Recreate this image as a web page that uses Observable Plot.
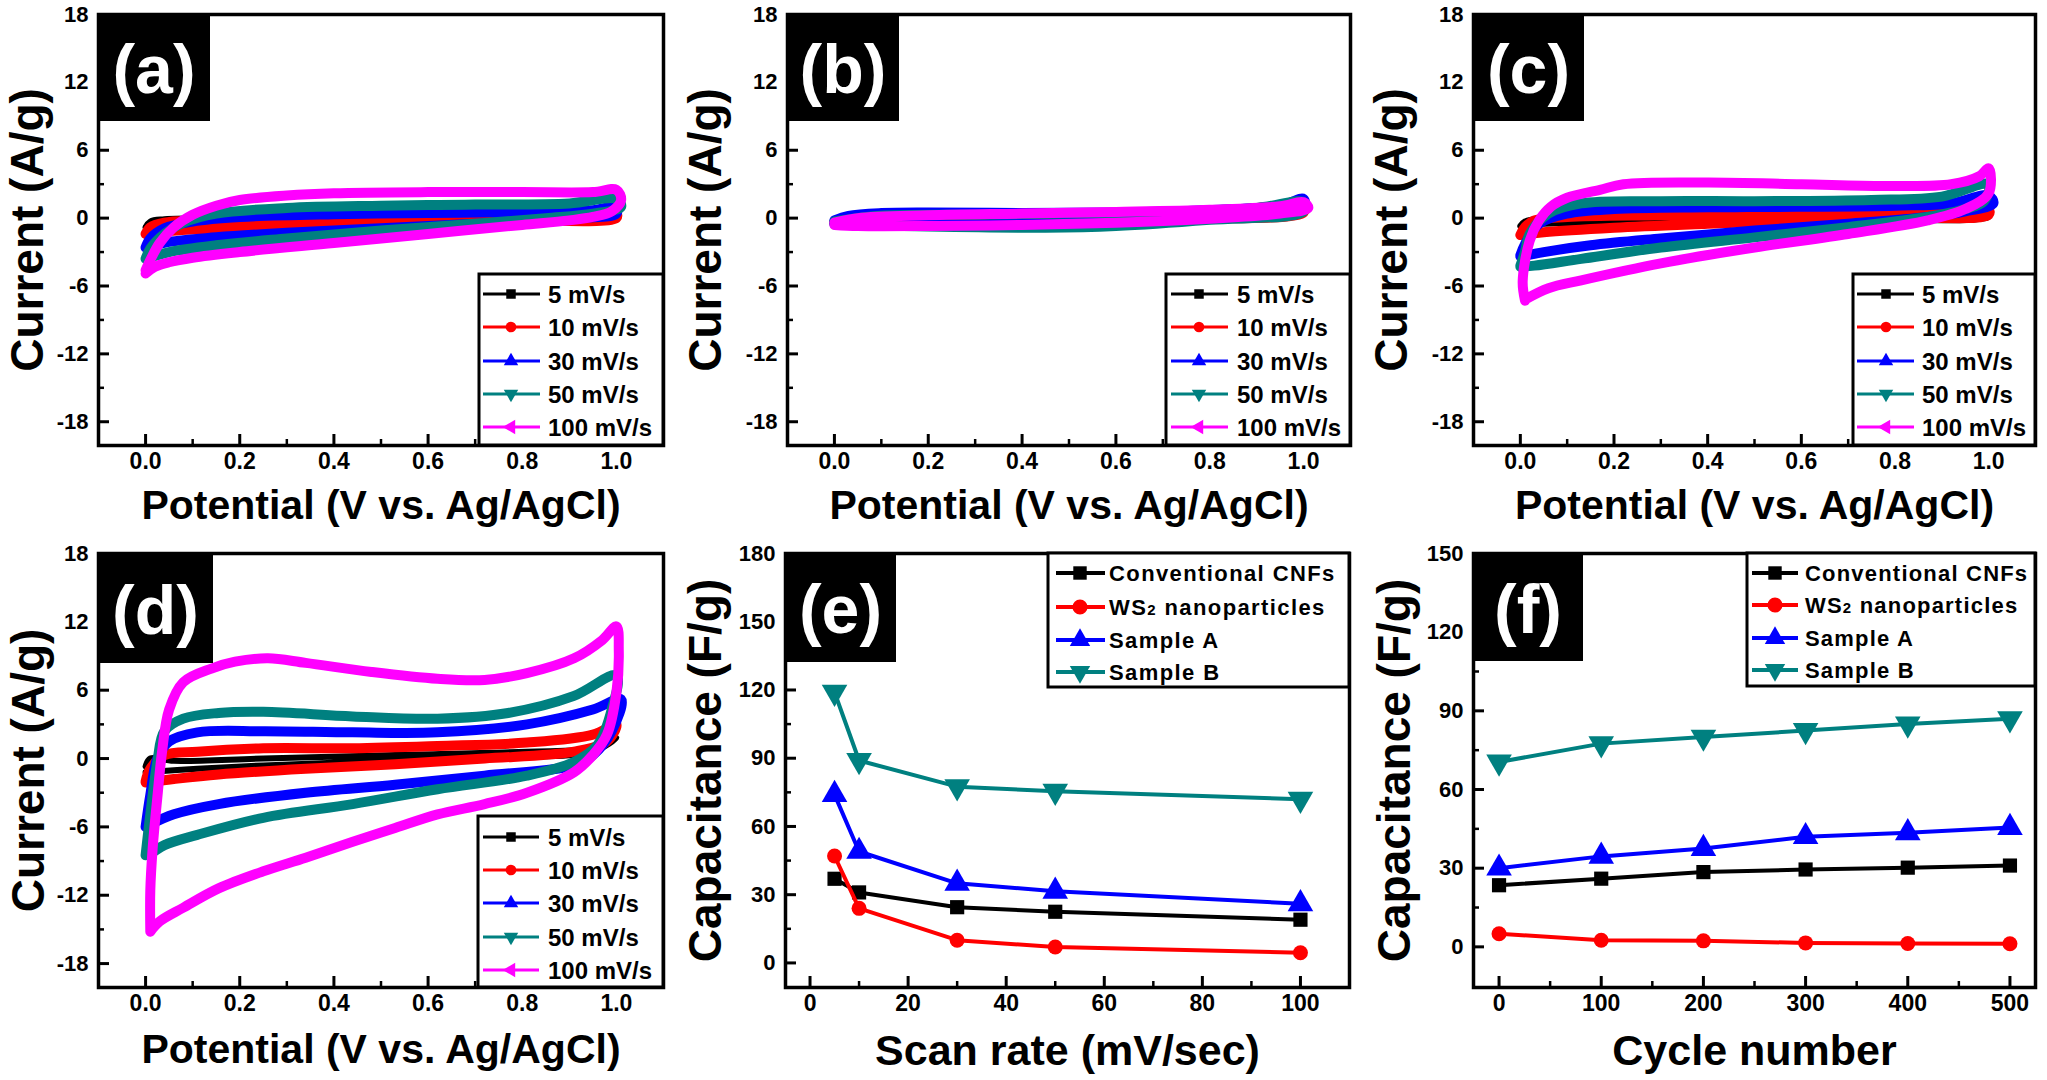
<!DOCTYPE html>
<html><head><meta charset="utf-8">
<script src="https://cdn.jsdelivr.net/npm/d3@7"></script>
<script src="https://cdn.jsdelivr.net/npm/@observablehq/plot@0.6"></script>
<style>
body{margin:0;background:#fff;}
#root{position:relative;width:2047px;height:1080px;overflow:hidden;background:#fff;font-family:"Liberation Sans",Arial,sans-serif;}
#root > svg.plot{position:absolute;}
#overlay{position:absolute;left:0;top:0;}
</style></head><body><div id="root"></div>
<script>
// ---------- labels, colours, ticks ----------
const cvLabels = ["5 mV/s", "10 mV/s", "30 mV/s", "50 mV/s", "100 mV/s"];
const cvColors = ["#000000", "#ff0000", "#0000ff", "#008080", "#ff00ff"];
const capLabels = ["Conventional CNFs", "WS2 nanoparticles", "Sample A", "Sample B"];
const capColors = ["#000000", "#ff0000", "#0000ff", "#008080"];
const panelTags = ["(a)", "(b)", "(c)", "(d)", "(e)", "(f)"];

const potTicks = [0, 0.2, 0.4, 0.6, 0.8, 1.0];
const potMinor = [0.1, 0.3, 0.5, 0.7, 0.9];
const curTicks = [-18, -12, -6, 0, 6, 12, 18];
const curMinor = [-15, -9, -3, 3, 9, 15];
const scanTicks = [0, 20, 40, 60, 80, 100];
const scanMinor = [10, 30, 50, 70, 90];
const capTicksE = [0, 30, 60, 90, 120, 150, 180];
const capMinorE = [15, 45, 75, 105, 135, 165];
const cycleTicks = [0, 100, 200, 300, 400, 500];
const cycleMinor = [50, 150, 250, 350, 450];
const capTicksF = [0, 30, 60, 90, 120, 150];
const capMinorF = [15, 45, 75, 105, 135];

// ---------- CV loops: [potential V, current A/g] ----------
const a5 = [[0,-0.8],[0.01,-0.3],[0.04,-0.1],[0.2,0.0],[0.5,0.1],[0.8,0.2],[1.0,0.3],[1.0,0.0],[0.8,-0.1],[0.5,-0.25],[0.2,-0.4],[0.05,-0.6],[0,-0.8]];
const a10 = [[0,-1.4],[0.01,-0.8],[0.04,-0.4],[0.1,-0.2],[0.3,0.0],[0.6,0.2],[0.8,0.3],[1.0,0.4],[1.0,0.0],[0.8,-0.2],[0.6,-0.4],[0.4,-0.6],[0.2,-0.85],[0.1,-1.0],[0.03,-1.2],[0,-1.4]];
const a30 = [[0,-2.6],[0.01,-1.8],[0.04,-0.9],[0.1,-0.3],[0.2,0.1],[0.4,0.35],[0.6,0.45],[0.8,0.55],[0.95,0.7],[1.0,1.0],[1.0,0.4],[0.9,0.0],[0.7,-0.5],[0.5,-0.9],[0.3,-1.3],[0.15,-1.7],[0.05,-2.1],[0,-2.6]];
const a50 = [[0,-3.6],[0.01,-2.7],[0.04,-1.4],[0.08,-0.4],[0.15,0.4],[0.3,0.9],[0.5,1.1],[0.7,1.2],[0.9,1.3],[1.0,1.7],[1.01,1.0],[0.95,0.4],[0.85,0.0],[0.7,-0.5],[0.5,-1.1],[0.3,-1.8],[0.15,-2.4],[0.05,-3.0],[0,-3.6]];
const a100 = [[0,-4.6],[0.01,-3.7],[0.03,-2.2],[0.06,-0.8],[0.1,0.3],[0.15,1.1],[0.2,1.6],[0.3,2.0],[0.4,2.2],[0.6,2.3],[0.8,2.3],[0.95,2.3],[1.0,2.5],[1.01,1.6],[0.99,0.6],[0.95,0.1],[0.9,-0.2],[0.8,-0.6],[0.6,-1.4],[0.4,-2.2],[0.2,-3.0],[0.1,-3.5],[0.05,-3.9],[0.02,-4.3],[0,-4.9]];

const b5 = [[0,-0.3],[0.2,0.0],[0.5,0.2],[0.8,0.4],[1.0,0.8],[1.0,0.4],[0.7,0.0],[0.4,-0.2],[0.1,-0.4],[0,-0.4]];
const b10 = [[0,-0.35],[0.1,0.05],[0.3,0.2],[0.5,0.3],[0.8,0.5],[1.0,1.0],[1.0,0.5],[0.7,-0.05],[0.4,-0.3],[0.1,-0.5],[0,-0.45]];
const b30 = [[0,-0.2],[0.03,0.2],[0.1,0.45],[0.2,0.5],[0.4,0.45],[0.6,0.5],[0.8,0.7],[0.95,1.1],[1.0,1.7],[1.0,0.9],[0.8,0.1],[0.6,-0.3],[0.4,-0.5],[0.2,-0.6],[0,-0.5]];
const b50 = [[0,-0.3],[0.1,0.2],[0.3,0.3],[0.5,0.4],[0.7,0.55],[0.9,0.9],[1.0,1.4],[1.0,0.6],[0.8,-0.15],[0.6,-0.7],[0.45,-0.85],[0.2,-0.75],[0,-0.55]];
const b100 = [[0,-0.4],[0.05,0.0],[0.2,0.25],[0.4,0.4],[0.6,0.55],[0.8,0.75],[0.95,1.05],[1.0,1.4],[1.01,0.9],[0.95,0.4],[0.8,-0.05],[0.6,-0.4],[0.4,-0.6],[0.2,-0.7],[0.05,-0.7],[0,-0.6]];

const c5 = [[0,-0.7],[0.01,-0.3],[0.04,-0.05],[0.15,0.0],[0.3,0.05],[0.6,0.15],[0.9,0.25],[1.0,0.4],[1.0,0.1],[0.7,-0.05],[0.4,-0.2],[0.2,-0.35],[0.05,-0.5],[0,-0.7]];
const c10 = [[0,-1.5],[0.01,-0.8],[0.03,-0.2],[0.1,0.1],[0.3,0.25],[0.5,0.35],[0.7,0.45],[0.9,0.55],[1.0,0.8],[1.0,0.3],[0.8,0.05],[0.6,-0.2],[0.4,-0.5],[0.2,-0.85],[0.05,-1.25],[0,-1.5]];
const c30 = [[0,-3.3],[0.01,-2.3],[0.04,-0.5],[0.1,0.4],[0.2,0.8],[0.4,0.95],[0.6,1.0],[0.8,1.1],[0.92,1.3],[1.0,2.0],[1.01,1.3],[0.95,0.6],[0.87,0.1],[0.7,-0.5],[0.5,-1.1],[0.3,-1.8],[0.15,-2.4],[0.05,-3.0],[0,-3.4]];
const c50 = [[0,-4.2],[0.01,-3.0],[0.02,-1.4],[0.06,0.4],[0.13,1.3],[0.3,1.5],[0.5,1.5],[0.75,1.6],[0.9,1.9],[1.0,3.0],[0.99,1.5],[0.95,0.8],[0.87,0.1],[0.7,-0.8],[0.5,-1.7],[0.3,-2.6],[0.13,-3.6],[0.03,-4.2],[0,-4.3]];
const c100 = [[0.01,-7.3],[0.005,-5.6],[0.02,-2.0],[0.04,-0.2],[0.065,1.0],[0.1,1.8],[0.17,2.5],[0.22,3.0],[0.4,3.15],[0.6,3.0],[0.78,2.85],[0.92,3.0],[0.98,3.7],[1.0,4.4],[1.0,2.2],[0.95,0.8],[0.87,-0.2],[0.7,-1.4],[0.5,-2.6],[0.3,-4.0],[0.13,-5.5],[0.06,-6.2],[0.01,-7.2]];

const d5 = [[0,-0.7],[0.01,0.0],[0.06,-0.2],[0.25,0.0],[0.53,0.3],[0.81,0.6],[0.95,0.9],[1.0,1.8],[0.95,0.6],[0.72,0.15],[0.44,-0.3],[0.25,-0.6],[0.11,-0.9],[0,-1.2]];
const d10 = [[0,-2.0],[0.01,-0.9],[0.04,0.3],[0.11,0.6],[0.25,0.9],[0.44,0.9],[0.62,1.1],[0.81,1.4],[0.95,2.1],[1.0,3.0],[0.98,1.5],[0.91,0.6],[0.72,0.0],[0.53,-0.5],[0.34,-0.9],[0.155,-1.4],[0.06,-1.8],[0,-2.1]];
const d30 = [[0,-6.0],[0.01,-3.2],[0.025,0.0],[0.05,1.5],[0.11,2.3],[0.25,2.4],[0.44,2.3],[0.62,2.3],[0.81,3.0],[0.95,4.3],[1.01,5.2],[0.99,2.4],[0.95,0.3],[0.91,-0.6],[0.72,-1.5],[0.53,-2.3],[0.34,-3.0],[0.155,-4.0],[0.06,-4.9],[0.01,-5.8]];
const d50 = [[0,-8.5],[0.01,-4.9],[0.025,-0.3],[0.04,2.4],[0.08,3.5],[0.155,4.0],[0.25,4.1],[0.44,3.7],[0.62,3.5],[0.77,4.0],[0.91,5.5],[1.0,7.3],[0.99,4.3],[0.96,1.2],[0.91,-0.3],[0.81,-1.5],[0.62,-2.7],[0.44,-4.0],[0.25,-5.2],[0.11,-6.7],[0.04,-7.6],[0.01,-8.4]];
const d100 = [[0.01,-15.2],[0.01,-11.6],[0.015,-7.9],[0.025,-3.4],[0.035,0.6],[0.05,4.3],[0.08,6.7],[0.14,7.9],[0.19,8.5],[0.26,8.8],[0.34,8.4],[0.48,7.6],[0.62,7.0],[0.72,6.9],[0.81,7.5],[0.91,8.8],[0.97,10.4],[1.0,11.6],[1.005,9.5],[1.0,5.8],[0.98,2.1],[0.95,0.3],[0.91,-1.2],[0.81,-3.0],[0.72,-4.0],[0.62,-4.9],[0.53,-6.1],[0.44,-7.3],[0.34,-8.7],[0.25,-9.9],[0.155,-11.4],[0.08,-13.1],[0.03,-14.3],[0.01,-15.2]];

// ---------- capacitance vs scan rate (e) ----------
const scanRates = [5, 10, 30, 50, 100];
const capE_CNF = [37, 31, 24.5, 22.5, 19];
const capE_WS2 = [47, 24, 10, 7, 4.5];
const capE_A = [74, 49, 35, 31.5, 26];
const capE_B = [119, 89, 77.5, 75.5, 72];

// ---------- capacitance vs cycle number (f) ----------
const cycles = [0, 100, 200, 300, 400, 500];
const capF_CNF = [23.5, 26, 28.5, 29.5, 30.2, 31];
const capF_WS2 = [5, 2.5, 2.3, 1.5, 1.3, 1.2];
const capF_A = [30, 34.5, 37.5, 42, 43.5, 45.5];
const capF_B = [70.5, 77.5, 80, 82.5, 85, 87];

// ---------- symbols ----------
const triDown = {draw(ctx, size) {
  const s = Math.sqrt(size * 4 / Math.sqrt(3)), h = s * Math.sqrt(3) / 2;
  ctx.moveTo(0, h * 2 / 3); ctx.lineTo(s / 2, -h / 3); ctx.lineTo(-s / 2, -h / 3); ctx.closePath();
}};
const triLeft = {draw(ctx, size) {
  const s = Math.sqrt(size * 4 / Math.sqrt(3)), h = s * Math.sqrt(3) / 2;
  ctx.moveTo(-h * 2 / 3, 0); ctx.lineTo(h / 3, -s / 2); ctx.lineTo(h / 3, s / 2); ctx.closePath();
}};
const cvSymbols = [d3.symbolSquare, d3.symbolCircle, d3.symbolTriangle, triDown, triLeft];
const capSymbols = [d3.symbolSquare, d3.symbolCircle, d3.symbolTriangle, triDown];

const FONT = "Liberation Sans, Arial, sans-serif";
const root = document.getElementById("root");

function makePanel(o) {
  const marks = [
    ...o.dataMarks,
    Plot.axisX({ticks: o.xt, tickSize: -11, strokeWidth: 3, tickFormat: () => "", label: null}),
    Plot.axisX({ticks: o.xm, tickSize: -6, strokeWidth: 2.5, tickFormat: () => "", label: null}),
    Plot.axisY({ticks: o.yt, tickSize: -11, strokeWidth: 3, tickFormat: () => "", label: null}),
    Plot.axisY({ticks: o.ym, tickSize: -6, strokeWidth: 2.5, tickFormat: () => "", label: null}),
    Plot.axisX({ticks: o.xt, tickSize: 0, tickPadding: 7, tickFormat: o.xf, fontSize: 23, fontWeight: "bold", label: null}),
    Plot.axisY({ticks: o.yt, tickSize: 0, tickPadding: 10, tickFormat: d => String(d), fontSize: 22, fontWeight: "bold", label: null}),
    Plot.frame({stroke: "#000", strokeWidth: 3.5}),
    Plot.text([o.xTitle], {text: d => d, frameAnchor: "bottom", dy: o.xdy, fontSize: o.xfs || 41, fontWeight: "bold", textAnchor: "middle", lineAnchor: "middle", fill: "#000"}),
    Plot.text([o.yTitle], {text: d => d, frameAnchor: "left", dx: o.ydx, rotate: -90, fontSize: 46, fontWeight: "bold", textAnchor: "middle", lineAnchor: "middle", fill: "#000"})
  ];
  const svg = Plot.plot({
    width: o.w, height: o.h,
    marginLeft: o.ml, marginRight: o.mr, marginTop: o.mt, marginBottom: o.mb,
    x: {domain: o.xd}, y: {domain: o.yd},
    style: {background: "transparent", fontFamily: FONT, color: "#000", overflow: "visible"},
    marks
  });
  svg.classList.add("plot");
  svg.style.left = o.left + "px";
  svg.style.top = o.top + "px";
  root.appendChild(svg);
}

function cvMarks(loops) {
  return loops.map((pts, i) => Plot.line(pts, {
    x: d => d[0], y: d => d[1], stroke: cvColors[i], strokeWidth: i === 0 ? 6 : 10,
    curve: "catmull-rom", strokeLinejoin: "round", strokeLinecap: "round"
  }));
}
function capMarks(xs, series) {
  const out = [];
  series.forEach((ys, i) => {
    const data = xs.map((x, j) => ({x, y: ys[j]}));
    out.push(Plot.line(data, {x: "x", y: "y", stroke: capColors[i], strokeWidth: 4}));
    out.push(Plot.dot(data, {x: "x", y: "y", fill: capColors[i], stroke: "none", symbol: capSymbols[i], r: i === 1 ? 7.5 : (i === 0 ? 8 : 9.5)}));
  });
  return out;
}

const fmt1 = d3.format(".1f");
const potTitle = "Potential (V vs. Ag/AgCl)";
const curTitle = "Current (A/g)";
const capTitle = "Capacitance (F/g)";

const cvCommon = {xd: [-0.1, 1.1], yd: [-20.1, 18], xt: potTicks, xm: potMinor, yt: curTicks, ym: curMinor, xf: fmt1, xTitle: potTitle, yTitle: curTitle};

makePanel({...cvCommon, left: 0, top: 0, w: 690, h: 540, ml: 98, mr: 27, mt: 14, mb: 95, xdy: 60, ydx: -70, dataMarks: cvMarks([a5, a10, a30, a50, a100])});
makePanel({...cvCommon, left: 690, top: 0, w: 690, h: 540, ml: 97, mr: 30, mt: 14, mb: 95, xdy: 60, ydx: -81, dataMarks: cvMarks([b5, b10, b30, b50, b100])});
makePanel({...cvCommon, left: 1380, top: 0, w: 667, h: 540, ml: 93, mr: 12, mt: 14, mb: 95, xdy: 60, ydx: -81, dataMarks: cvMarks([c5, c10, c30, c50, c100])});
makePanel({...cvCommon, left: 0, top: 540, w: 690, h: 540, ml: 98, mr: 27, mt: 13, mb: 93, xdy: 62, ydx: -69, dataMarks: cvMarks([d5, d10, d30, d50, d100])});
makePanel({left: 690, top: 540, w: 690, h: 540, ml: 95, mr: 31, mt: 13, mb: 93, xd: [-5, 110], yd: [-10.8, 180], xt: scanTicks, xm: scanMinor, yt: capTicksE, ym: capMinorE, xf: d => String(d), xTitle: "Scan rate (mV/sec)", xfs: 43, yTitle: capTitle, xdy: 64, ydx: -79, dataMarks: capMarks(scanRates, [capE_CNF, capE_WS2, capE_A, capE_B])});
makePanel({left: 1380, top: 540, w: 667, h: 540, ml: 93, mr: 12, mt: 13, mb: 93, xd: [-25, 525], yd: [-15.5, 150], xt: cycleTicks, xm: cycleMinor, yt: capTicksF, ym: capMinorF, xf: d => String(d), xTitle: "Cycle number", xfs: 43, yTitle: capTitle, xdy: 64, ydx: -78, dataMarks: capMarks(cycles, [capF_CNF, capF_WS2, capF_A, capF_B])});

// ---------- overlay: panel tags and legends ----------
const ov = d3.select(root).append("svg").attr("id", "overlay").attr("width", 2047).attr("height", 1080)
  .style("font-family", FONT).style("overflow", "visible");

const tagBoxes = [[98, 14, 210, 121], [787, 14, 899, 121], [1473, 14, 1584, 121], [98, 553, 213, 663], [785, 553, 896, 662], [1473, 553, 1583, 661]];
tagBoxes.forEach((b, i) => {
  ov.append("rect").attr("x", b[0]).attr("y", b[1]).attr("width", b[2] - b[0]).attr("height", b[3] - b[1]).attr("fill", "#000");
  ov.append("text").attr("x", (b[0] + b[2]) / 2).attr("y", (b[1] + b[3]) / 2 + 8)
    .attr("text-anchor", "middle").attr("dominant-baseline", "middle")
    .attr("font-size", 68).attr("font-weight", "bold").attr("fill", "#fff").text(panelTags[i]);
});

function legend(box, labels, colors, symbols, o) {
  const g = ov.append("g");
  g.append("rect").attr("x", box[0]).attr("y", box[1]).attr("width", box[2] - box[0]).attr("height", box[3] - box[1])
    .attr("fill", "#fff").attr("stroke", "#000").attr("stroke-width", 3);
  labels.forEach((lab, i) => {
    const y = o.rowY[i];
    g.append("line").attr("x1", o.lx0).attr("x2", o.lx1).attr("y1", y).attr("y2", y).attr("stroke", colors[i]).attr("stroke-width", o.lw);
    g.append("path").attr("d", d3.symbol(symbols[i], o.ms)()).attr("transform", `translate(${o.mx},${y})`).attr("fill", colors[i]);
    const t = g.append("text").attr("x", o.tx).attr("y", y).attr("dy", "0.36em").attr("font-size", o.fs)
      .attr("font-weight", "bold").attr("fill", "#000").style("letter-spacing", (o.ls || 0) + "px");
    if (lab.startsWith("WS2")) {
      t.append("tspan").text("WS");
      t.append("tspan").attr("font-size", o.fs * 0.68).text("2");
      t.append("tspan").text(lab.slice(3));
    } else t.text(lab);
  });
}
const cvRowsTop = [294, 327, 361, 394, 427];
const cvRowsBot = [837, 870, 903, 937, 970];
legend([479, 274, 663, 445], cvLabels, cvColors, cvSymbols, {rowY: cvRowsTop, lx0: 483, lx1: 540, mx: 511, tx: 548, fs: 24, lw: 3, ms: 90});
legend([1166, 274, 1350, 445], cvLabels, cvColors, cvSymbols, {rowY: cvRowsTop, lx0: 1171, lx1: 1228, mx: 1199, tx: 1237, fs: 24, lw: 3, ms: 90});
legend([1853, 274, 2035, 445], cvLabels, cvColors, cvSymbols, {rowY: cvRowsTop, lx0: 1857, lx1: 1914, mx: 1886, tx: 1922, fs: 24, lw: 3, ms: 90});
legend([478, 816, 663, 987], cvLabels, cvColors, cvSymbols, {rowY: cvRowsBot, lx0: 483, lx1: 539, mx: 511, tx: 548, fs: 24, lw: 3, ms: 90});
legend([1048, 553, 1349, 687], capLabels, capColors, capSymbols, {rowY: [573, 607, 640, 672], lx0: 1056, lx1: 1105, mx: 1080, tx: 1109, fs: 22, ls: 1.4, lw: 4, ms: 180});
legend([1747, 553, 2035, 686], capLabels, capColors, capSymbols, {rowY: [573, 605, 638, 670], lx0: 1752, lx1: 1798, mx: 1775, tx: 1805, fs: 22, ls: 1.2, lw: 4, ms: 180});
</script></body></html>
